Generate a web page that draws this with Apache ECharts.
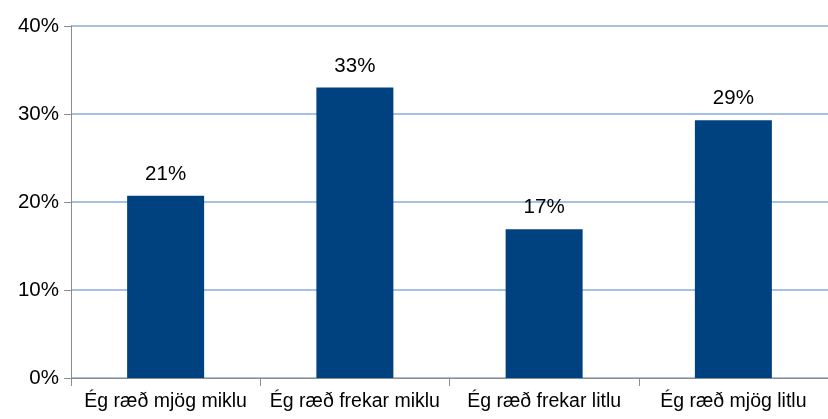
<!DOCTYPE html>
<html lang="is">
<head>
    <meta charset="UTF-8">
    <title>chart</title>
    <script src="https://cdn.jsdelivr.net/npm/echarts@6/dist/echarts.min.js"></script>
    <style>
        html, body { margin: 0; padding: 0; background: #fff; }
        #chart { width: 828px; height: 419px; }
    </style>
</head>
<body>
    <div id="chart"></div>
    <script>
        var categories = ['Ég ræð mjög miklu', 'Ég ræð frekar miklu', 'Ég ræð frekar litlu', 'Ég ræð mjög litlu'];
        var values = [20.7, 33.0, 16.9, 29.3];
        var yTicks = [0, 10, 20, 30, 40];

        var chart = echarts.init(document.getElementById('chart'));
        var option = {
            animation: false,
            textStyle: { fontFamily: 'Liberation Sans, Arial, sans-serif' },
            grid: { left: 71, right: -3, top: 26, bottom: 41 },
            xAxis: {
                type: 'category',
                data: categories,
                axisLine: { lineStyle: { color: '#8c8c8c', width: 1 } },
                axisTick: { show: true, length: 8, lineStyle: { color: '#8c8c8c' } },
                axisLabel: {
                    color: '#000', fontSize: 19.5, margin: 14,
                    interval: 0, hideOverlap: false, align: 'center'
                }
            },
            yAxis: {
                type: 'value',
                min: yTicks[0],
                max: yTicks[yTicks.length - 1],
                interval: 10,
                axisLine: { show: true, lineStyle: { color: '#8c8c8c', width: 1 } },
                axisTick: { show: true, length: 7, lineStyle: { color: '#8c8c8c' } },
                axisLabel: { color: '#000', fontSize: 20.5, margin: 12, formatter: '{value}%' },
                splitLine: { lineStyle: { color: '#a7c0e8', width: 2 } }
            },
            series: [{
                type: 'bar',
                data: values,
                barWidth: 77,
                itemStyle: { color: '#00427f' },
                label: {
                    show: true,
                    position: 'top',
                    distance: 11,
                    color: '#000',
                    fontSize: 20.5,
                    formatter: function (p) { return Math.round(p.value) + '%'; }
                }
            }]
        };
        chart.setOption(option);
    </script>
</body>
</html>
